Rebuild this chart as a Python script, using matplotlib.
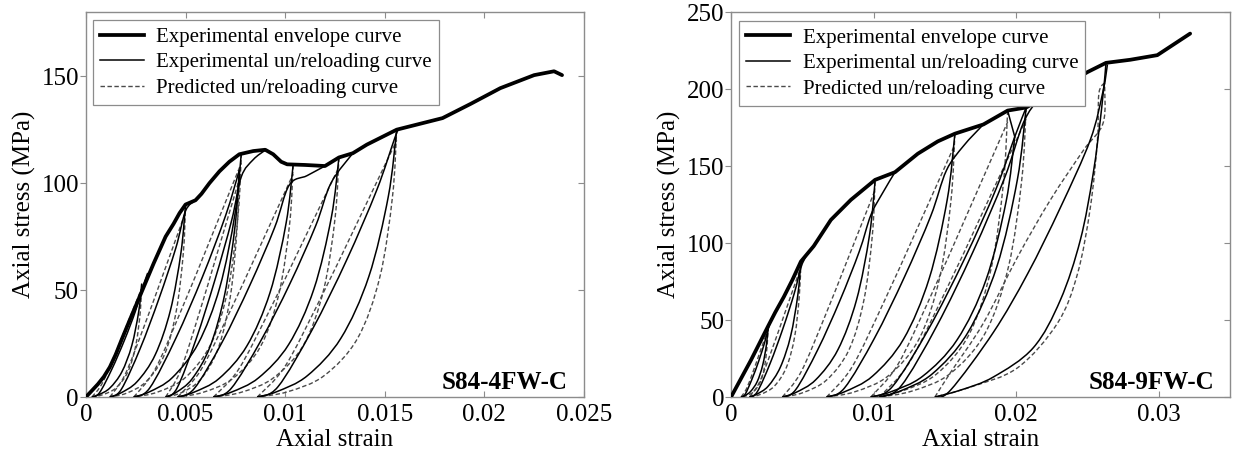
import matplotlib
matplotlib.use("Agg")
import matplotlib.pyplot as plt
import matplotlib.lines as mlines
from matplotlib.lines import Line2D
from matplotlib.path import Path
from matplotlib.patches import PathPatch

plt.rcParams['font.family'] = ['Liberation Serif', 'DejaVu Serif']

# ---------------- S84-4FW-C ----------------
left_env_strain = [0, .0003, .0006, .0009, .0012, .0015, .0018, .0022, .0027, .0034, .0040,
                   .0044, .0047, .0050, .0055, .0058, .0062, .0067, .0072, .0077, .0084,
                   .0090, .0094, .0098, .0101, .0110, .0120, .0127, .0134, .0141, .0156,
                   .0179, .0193, .0208, .0225, .0235, .0239]
left_env_stress = [0, 3, 6, 9.5, 14, 20, 27, 36, 47, 62.5, 75,
                   81, 86, 90, 92, 95, 100, 105.5, 110, 113.5, 115,
                   115.6, 113.5, 110, 108.8, 108.5, 108, 112, 114, 118, 125,
                   130.4, 137, 144.4, 150.5, 152.3, 150.5]

left_exp_unload = [
    ([.0028, .00265, .0023, .0018, .0012, .00065, .0003], [53, 40, 24, 11.7, 4.2, 1.1, 0]),
    ([.0050, .00477, .00424, .00348, .00257, .00173, .0012], [90, 67.5, 40.5, 19.8, 7.2, 1.8, 0]),
    ([.0078, .00748, .00672, .00564, .00434, .00316, .0024], [114, 85.5, 51.3, 25.1, 9.1, 2.3, 0]),
    ([.0077, .00748, .00696, .00622, .00533, .00452, .0040], [106, 79.5, 47.7, 23.3, 8.5, 2.1, 0]),
    ([.0104, .01005, .00924, .00808, .00669, .00541, .0046], [108.5, 81.4, 48.8, 23.9, 8.7, 2.2, 0]),
    ([.0127, .01232, .01144, .01018, .00867, .00728, .0064], [112, 84, 50.4, 24.6, 9, 2.2, 0]),
    ([.0156, .01518, .0142, .0128, .01112, .00958, .0086], [125, 93.8, 56.3, 27.5, 10, 2.5, 0]),
]
left_exp_reload = [
    ([.0003, .00068, .0013, .00193, .00248, .0028, .0031], [0, 2, 13, 26.5, 40, 50, 58]),
    ([.0012, .00177, .00272, .00367, .00451, .0050, .0055], [0, 3.5, 22.6, 46.1, 69.6, 87, 92]),
    ([.0024, .0032, .00452, .00585, .00701, .0077], [0, 4.2, 27.6, 56.2, 84.8, 106]),
    ([.0040, .00457, .00552, .00647, .00731, .0078, .0084, .0090], [0, 4.1, 26.8, 54.6, 82.4, 103, 111, 115.4]),
    ([.0046, .00544, .00684, .00824, .00947, .0102, .0111, .0120], [0, 4, 25.7, 52.5, 79.2, 99, 103.5, 108]),
    ([.0064, .00729, .00876, .01024, .01153, .0123, .0134], [0, 4, 26, 53, 80, 100, 114]),
    ([.0086, .00964, .01136, .01309, .0146, .0155, .0157], [0, 4.8, 31.5, 64.1, 96.8, 121, 125.5]),
]
left_pred_unload = [
    ([.0028, .00273, .0025, .0021, .0015, .00085, .0003], [53, 40, 24, 11.7, 4.2, 1.1, 0]),
    ([.0050, .00489, .00454, .00394, .00302, .00204, .0012], [90, 67.5, 40.5, 19.8, 7.2, 1.8, 0]),
    ([.0078, .00764, .00715, .00629, .00499, .00359, .0024], [114, 85.5, 51.3, 25.1, 9.1, 2.3, 0]),
    ([.0077, .00759, .00726, .00666, .00578, .00481, .0040], [106, 79.5, 47.7, 23.3, 8.5, 2.1, 0]),
    ([.0104, .01023, .0097, .00878, .00738, .00588, .0046], [108.5, 81.4, 48.8, 23.9, 8.7, 2.2, 0]),
    ([.0127, .01251, .01194, .01094, .00942, .00779, .0064], [112, 84, 50.4, 24.6, 9, 2.2, 0]),
    ([.0156, .01539, .01476, .01364, .01196, .01014, .0086], [125, 93.8, 56.3, 27.5, 10, 2.5, 0]),
]
left_pred_reload = [
    ([.0003, .0008, .00143, .00205, .0028], [0, 6.1, 19.3, 33.6, 50.9]),
    ([.0012, .00196, .00291, .00386, .0050], [0, 10.4, 32.8, 57, 86.4]),
    ([.0024, .00348, .00483, .00618, .0078], [0, 13.1, 41.6, 72.2, 109.4]),
    ([.0040, .00474, .00567, .00659, .0077], [0, 12.2, 38.7, 67.2, 101.8]),
    ([.0046, .00576, .00721, .00866, .0104], [0, 12.5, 39.6, 68.8, 104.2]),
    ([.0064, .00766, .00924, .01081, .0127], [0, 12.9, 40.9, 71, 107.5]),
    ([.0086, .0100, .01175, .0135, .0156], [0, 14.4, 45.6, 79.2, 120]),
]
left_drop_segments = []

# ---------------- S84-9FW-C ----------------
right_env_strain = [0, .0007, .0014, .0020, .0026, .0031, .0037, .0043, .0049, .0058, .0070,
                    .0084, .0101, .0115, .0131, .0145, .0157, .0177, .0194, .0207, .0230,
                    .0250, .0263, .0280, .0299, .0322]
right_env_stress = [0, 12, 24, 35, 46, 55, 65, 76, 88, 98, 115,
                    128, 141, 146, 158, 166, 171, 177, 186, 188, 200,
                    211, 217, 219, 222, 236]

right_exp_unload = [
    ([.0026, .00249, .00222, .00184, .00138, .00097, .0007], [46, 34.5, 20.7, 10.1, 3.7, .9, 0]),
    ([.0049, .00468, .00418, .00346, .0026, .0018, .0013], [88, 66, 39.6, 19.4, 7, 1.8, 0]),
    ([.0101, .00971, .0088, .0075, .00594, .00451, .0036], [140, 105, 63, 30.8, 11.2, 2.8, 0]),
    ([.0157, .01516, .0139, .0121, .00994, .00796, .0067], [171, 128, 77, 37.6, 13.7, 3.4, 0]),
    ([.0199, .01929, .01788, .01586, .01344, .01121, .0098], [169, 126.8, 76, 37.2, 13.5, 3.4, 0]),
    ([.0207, .02008, .01864, .01658, .01411, .01184, .0104], [188, 141, 84.6, 41.4, 15, 3.8, 0]),
    ([.0263, .0260, .0254, .0245, .0231, .0212, .0184, .0161, .0143], [217, 188, 145, 102, 63, 32, 13, 4.5, 0]),
]
right_exp_reload = [
    ([.0007, .00099, .00146, .00194, .00235, .0026, .0028], [0, 1.8, 11.4, 23.3, 35.2, 44, 50]),
    ([.0013, .00184, .00274, .00364, .00443, .0049, .0053, .0058], [0, 3.4, 21.8, 44.5, 67.2, 84, 92, 98]),
    ([.0036, .00453, .00608, .00763, .00899, .0098, .0106, .0115], [0, 4.7, 30.7, 62.5, 94.4, 118, 132, 146]),
    ([.0067, .00796, .01006, .01216, .01401, .0151, .0163, .0177], [0, 5.9, 38.2, 77.9, 117.6, 147, 163, 177]),
    ([.0098, .01132, .01384, .01637, .01859, .0199, .0207], [0, 6.8, 43.9, 89.6, 135.2, 169, 188]),
    ([.0104, .01192, .01444, .01697, .01919, .0205, .0215], [0, 7.1, 46.3, 94.3, 142.4, 178, 193]),
    ([.0143, .0154, .0184, .0208, .0231, .0252, .0261, .0264], [0, 4.5, 42, 80, 123, 167, 199, 216]),
]
right_pred_unload = [
    ([.0026, .00254, .00237, .00207, .00161, .00112, .0007], [46, 34.5, 20.7, 10.1, 3.7, .9, 0]),
    ([.0049, .00479, .00447, .00389, .00303, .00209, .0013], [88, 66, 39.6, 19.4, 7, 1.8, 0]),
    ([.0101, .00991, .00932, .00828, .00672, .00503, .0036], [140, 105, 63, 30.8, 11.2, 2.8, 0]),
    ([.0157, .01543, .01462, .01318, .01102, .00868, .0067], [171, 128, 77, 37.6, 13.7, 3.4, 0]),
    ([.0194, .01911, .01825, .01671, .01441, .01191, .0098], [186, 139.5, 83.7, 40.9, 14.9, 3.7, 0]),
    ([.0207, .02039, .01946, .01782, .01534, .01267, .0104], [188, 141, 84.6, 41.4, 15, 3.8, 0]),
    ([.0262, .0258, .0257, .0252, .0243, .0229, .0201, .0168, .0143], [204, 197, 167, 123, 80, 48, 19, 6.5, 0]),
]
right_pred_reload = [
    ([.0007, .00108, .00156, .00203, .0026], [0, 5.3, 16.8, 29.2, 44.2]),
    ([.0013, .00202, .00292, .00382, .0049], [0, 10.1, 32.1, 55.8, 84.5]),
    ([.0036, .0049, .00653, .00815, .0101], [0, 16.1, 51.1, 88.7, 134.4]),
    ([.0067, .0085, .01075, .0130, .0157], [0, 19.7, 62.3, 108.2, 164]),
    ([.0098, .01172, .01412, .01652, .0194], [0, 21.4, 67.9, 117.9, 178.6]),
    ([.0104, .01246, .01504, .01761, .0207], [0, 21.7, 68.6, 119.1, 180.5]),
    ([.0143, .0154, .0177, .0201, .0224, .0247, .0261, .0262], [0, 16, 48, 91, 128, 160, 178, 204]),
]
# stress drop right at the start of the fifth unloading
right_drop_segments = [([.0194, .0199], [186, 169])]

left_xticks = [0, 0.005, 0.01, 0.015, 0.02, 0.025]
left_yticks = [0, 50, 100, 150]
right_xticks = [0, 0.01, 0.02, 0.03]
right_yticks = [0, 50, 100, 150, 200, 250]

legend_labels = ["Experimental envelope curve",
                 "Experimental un/reloading curve",
                 "Predicted un/reloading curve"]

ENV_LW = 2.7
THIN_LW = 1.1
DASH_COLOR = '#4a4a4a'
DASHES = (3.2, 1.8)
FRAME = '#8c8c8c'

fig = plt.figure(figsize=(12.33, 4.61), dpi=100)
ax_l = fig.add_axes([0.0697, 0.1388, 0.4039, 0.8351])
ax_r = fig.add_axes([0.5929, 0.1388, 0.4047, 0.8351])


def smooth_curve(ax, xs, ys, **kw):
    """Draw a smooth cubic Bezier path passing through every given point."""
    pts = list(zip(xs, ys))
    n = len(pts)
    verts = [pts[0]]
    codes = [Path.MOVETO]
    for i in range(n - 1):
        p0 = pts[i - 1] if i > 0 else pts[i]
        p1 = pts[i]
        p2 = pts[i + 1]
        p3 = pts[i + 2] if i + 2 < n else pts[i + 1]
        c1 = (p1[0] + (p2[0] - p0[0]) / 6, p1[1] + (p2[1] - p0[1]) / 6)
        c2 = (p2[0] - (p3[0] - p1[0]) / 6, p2[1] - (p3[1] - p1[1]) / 6)
        verts += [c1, c2, p2]
        codes += [Path.CURVE4] * 3
    ax.add_patch(PathPatch(Path(verts, codes), fill=False, **kw))


def draw_panel(ax, env_x, env_y, exp_un, exp_re, pr_un, pr_re, drops):
    for xs, ys in pr_un + pr_re:
        smooth_curve(ax, xs, ys, edgecolor=DASH_COLOR, lw=1.0,
                     linestyle=(0, DASHES), zorder=2)
    for xs, ys in exp_un + exp_re:
        smooth_curve(ax, xs, ys, edgecolor='black', lw=THIN_LW, zorder=3)
    for xs, ys in drops:
        ax.plot(xs, ys, color='black', lw=THIN_LW, zorder=3)
    ax.plot(env_x, env_y, color='black', lw=ENV_LW, solid_capstyle='round',
            solid_joinstyle='round', zorder=4)


def style_axes(ax, xlim, ylim, xticks, yticks, tag, legend_anchor):
    ax.set_xlim(*xlim)
    ax.set_ylim(*ylim)
    ax.set_xticks(xticks)
    ax.set_xticklabels([f"{v:g}" for v in xticks])
    ax.set_yticks(yticks)
    ax.set_yticklabels([f"{v:g}" for v in yticks])
    ax.tick_params(direction='in', top=True, right=True, length=4, width=0.8,
                   color=FRAME, labelsize=18, pad=5, labelcolor='black')
    # left-hand ticks point outward
    for t in ax.yaxis.get_major_ticks():
        t.tick1line.set_marker(mlines.TICKLEFT)
    for sp in ax.spines.values():
        sp.set_color(FRAME)
        sp.set_linewidth(1.0)
    ax.set_xlabel("Axial strain", fontsize=18, labelpad=2)
    ax.set_ylabel("Axial stress (MPa)", fontsize=18, labelpad=4)
    ax.text(0.968, 0.02, tag, transform=ax.transAxes, ha='right', va='baseline',
            fontsize=18, fontweight='bold', zorder=6)
    handles = [Line2D([], [], color='black', lw=ENV_LW),
               Line2D([], [], color='black', lw=THIN_LW),
               Line2D([], [], color=DASH_COLOR, lw=1.0, dashes=DASHES)]
    leg = ax.legend(handles, legend_labels, loc='upper left',
                    bbox_to_anchor=legend_anchor, borderaxespad=0,
                    fontsize=15, frameon=True, fancybox=False, framealpha=1,
                    edgecolor=FRAME, handlelength=2.1, handletextpad=0.6,
                    labelspacing=0.28, borderpad=0.35)
    leg.get_frame().set_linewidth(0.9)
    leg.set_zorder(10)


draw_panel(ax_l, left_env_strain, left_env_stress, left_exp_unload, left_exp_reload,
           left_pred_unload, left_pred_reload, left_drop_segments)
style_axes(ax_l, (0, 0.025), (0, 180), left_xticks, left_yticks, "S84-4FW-C",
           (0.014, 0.979))

draw_panel(ax_r, right_env_strain, right_env_stress, right_exp_unload, right_exp_reload,
           right_pred_unload, right_pred_reload, right_drop_segments)
style_axes(ax_r, (0, 0.035), (0, 250), right_xticks, right_yticks, "S84-9FW-C",
           (0.016, 0.977))

fig.savefig("out.png", dpi=100)
